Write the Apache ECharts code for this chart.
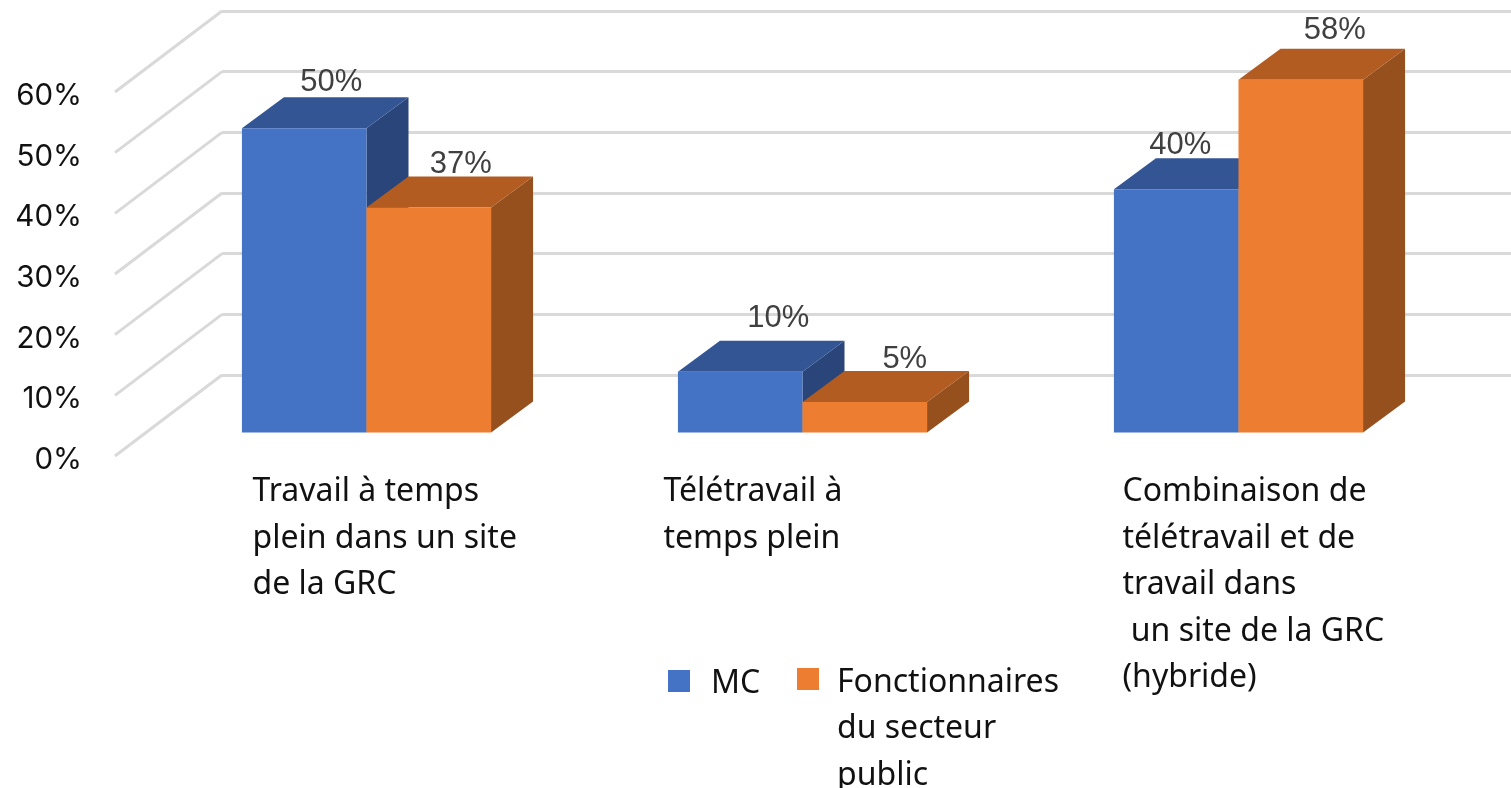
<!DOCTYPE html>
<html>
<head>
<meta charset="utf-8">
<style>
	html, body { margin: 0; padding: 0; background: #fff; }
	#chart { width: 1511px; height: 788px; }
</style>
<script src="https://cdn.jsdelivr.net/npm/echarts@6/dist/echarts.min.js"></script>
</head>
<body>
<div id="chart"></div>
<script>
const categories = [
	'Travail à temps\nplein dans un site\nde la GRC',
	'Télétravail à\ntemps plein',
	'Combinaison de\ntélétravail et de\ntravail dans\n un site de la GRC\n(hybride)'
]
const seriesNames = ['MC', 'Fonctionnaires\ndu secteur\npublic']
const mcValues = [50, 10, 40]
const publicValues = [37, 5, 58]
const axisTicks = [0, 10, 20, 30, 40, 50, 60]

// hand placed data labels in the original, offset from the centre of the bar's top edge
const labelShift = [
	[[27, -46], [38, -53], [4, -44]],
	[[32, -43], [40, -43], [34, -49]]
]
const faceColors = [
	{ front: '#4472C4', top: '#335593', side: '#2A4579' },
	{ front: '#ED7D31', top: '#B25C22', side: '#95501D' }
]
const labelBoxWidth = [228, 278, 232]
const depthX = 42, depthY = 31   // bar depth
const wallX = 107, wallY = 81    // side wall depth
const gridColor = '#D9D9D9'

function barItem(seriesIndex) {
	return function (params, api) {
		const i = api.value(0)
		const val = api.value(1)
		const colors = faceColors[seriesIndex]
		const w = api.size([1, 0])[0] * 2 / 7
		const base = api.coord([i, 0])
		const top = api.coord([i, val])
		const x0 = base[0] - w + seriesIndex * w
		const x1 = x0 + w
		const y0 = top[1], y1 = base[1]
		const shift = labelShift[seriesIndex][i]
		return {
			type: 'group',
			children: [
				{
					type: 'polygon',
					shape: { points: [[x1, y0], [x1 + depthX, y0 - depthY], [x1 + depthX, y1 - depthY], [x1, y1]] },
					style: { fill: colors.side }
				},
				{
					type: 'polygon',
					shape: { points: [[x0, y0], [x0 + depthX, y0 - depthY], [x1 + depthX, y0 - depthY], [x1, y0]] },
					style: { fill: colors.top }
				},
				{
					type: 'rect',
					shape: { x: x0, y: y0, width: w, height: y1 - y0 },
					style: { fill: colors.front }
				},
				{
					type: 'text',
					z2: 50,
					style: {
						x: (x0 + x1) / 2 + shift[0],
						y: y0 + shift[1],
						text: val + '%',
						fill: '#404040',
						font: '31px "Liberation Sans"',
						align: 'center',
						verticalAlign: 'middle'
					}
				}
			]
		}
	}
}

function wallItem(params, api) {
	const p = api.coord([0, api.value(0)])
	return {
		type: 'line',
		shape: { x1: p[0], y1: p[1], x2: p[0] - wallX, y2: p[1] + wallY },
		style: { stroke: gridColor, lineWidth: 3 }
	}
}

const rich = {}
labelBoxWidth.forEach(function (w, i) {
	rich['c' + i] = { width: w, align: 'left', fontSize: 32, lineHeight: 46.5, fontFamily: 'Noto Sans', color: '#111' }
})

const option = {
	animation: false,
	grid: [
		// plane of the bars
		{ left: 148.5, width: 1308, top: 67.5, height: 365 },
		// front plane, carries the tick labels
		{ left: 115, width: 1300, top: 96, height: 364 },
		// back wall
		{ left: 222, right: 0, top: 11, height: 364 }
	],
	xAxis: [
		{
			type: 'category',
			gridIndex: 0,
			data: categories,
			axisLine: { show: false },
			axisTick: { show: false },
			axisLabel: {
				interval: 0,
				margin: 36.5,
				formatter: function (value, index) {
					return '{c' + index + '|' + value + '}'
				},
				rich: rich
			}
		},
		{ type: 'value', gridIndex: 1, min: 0, max: 1, show: false },
		{ type: 'value', gridIndex: 2, min: 0, max: 1, show: false }
	],
	yAxis: [
		{ type: 'value', gridIndex: 0, min: 0, max: 60, interval: 10, show: false },
		{
			type: 'value',
			gridIndex: 1,
			min: 0,
			max: 60,
			interval: 10,
			axisLine: { show: false },
			axisTick: { show: false },
			splitLine: { show: false },
			axisLabel: {
				margin: 33,
				fontSize: 29.5,
				fontFamily: 'Inter',
				color: '#111',
				formatter: '{value}%'
			}
		},
		{
			type: 'value',
			gridIndex: 2,
			min: 0,
			max: 60,
			interval: 10,
			axisLine: { show: false },
			axisTick: { show: false },
			axisLabel: { show: false },
			splitLine: { lineStyle: { color: gridColor, width: 3 } }
		}
	],
	legend: [
		{
			left: 668,
			top: 668,
			selectedMode: false,
			padding: 0,
			itemWidth: 38,
			itemHeight: 28,
			symbolKeepAspect: false,
			icon: 'path://M0 0H22V22H0ZM38 28L38 28',
			data: [seriesNames[0]],
			textStyle: { fontSize: 32, fontFamily: 'Noto Sans', color: '#111' }
		},
		{
			left: 797,
			top: 658,
			selectedMode: false,
			padding: 0,
			itemWidth: 35,
			itemHeight: 142,
			symbolKeepAspect: false,
			icon: 'path://M0 0L0 0M0 10H22V32H0ZM35 142L35 142',
			data: [seriesNames[1]],
			textStyle: { fontSize: 32, lineHeight: 46.5, fontFamily: 'Noto Sans', color: '#111' }
		}
	],
	series: [
		{
			type: 'custom',
			name: 'walls',
			xAxisIndex: 2,
			yAxisIndex: 2,
			z: 1,
			silent: true,
			renderItem: wallItem,
			encode: { y: 0 },
			data: axisTicks
		},
		{
			type: 'custom',
			name: seriesNames[0],
			xAxisIndex: 0,
			yAxisIndex: 0,
			z: 2,
			itemStyle: { color: faceColors[0].front },
			renderItem: barItem(0),
			encode: { x: 0, y: 1 },
			data: mcValues.map((v, i) => [i, v])
		},
		{
			type: 'custom',
			name: seriesNames[1],
			xAxisIndex: 0,
			yAxisIndex: 0,
			z: 3,
			itemStyle: { color: faceColors[1].front },
			renderItem: barItem(1),
			encode: { x: 0, y: 1 },
			data: publicValues.map((v, i) => [i, v])
		}
	]
}

const myChart = echarts.init(document.getElementById('chart'))
myChart.setOption(option)
</script>
</body>
</html>
